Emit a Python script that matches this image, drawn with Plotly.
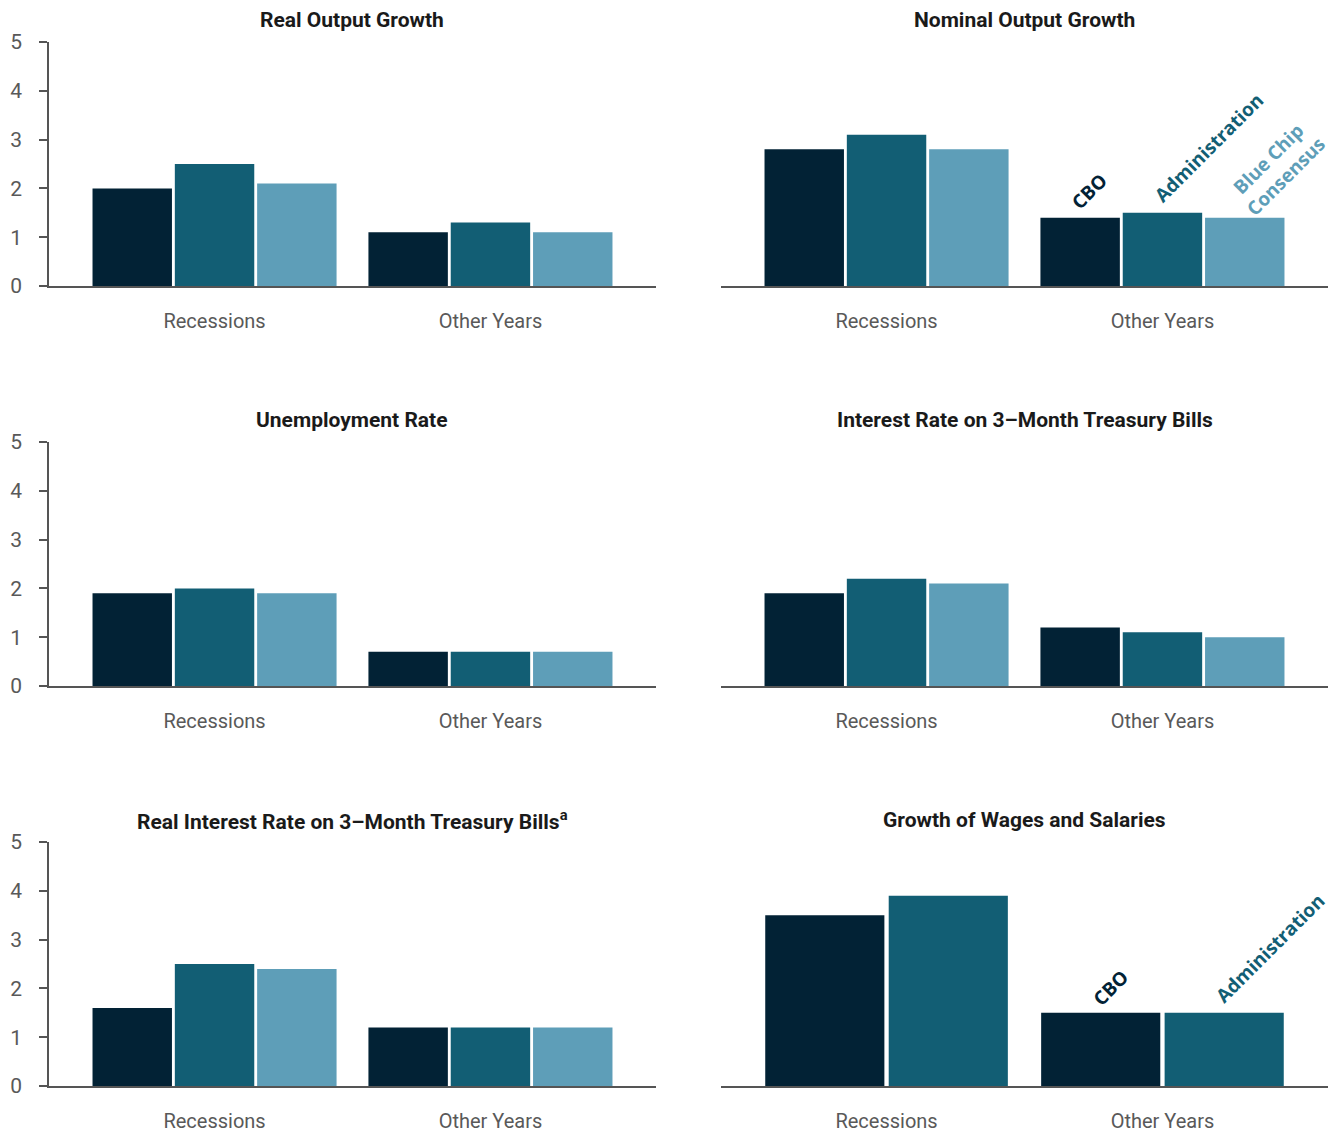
import plotly.graph_objects as go

categories = ["Recessions", "Other Years"]
series_names = ["CBO", "Administration", "Blue Chip Consensus"]
colors = ["#022235", "#125e74", "#5e9eb8"]

titles = [
    "Real Output Growth",
    "Nominal Output Growth",
    "Unemployment Rate",
    "Interest Rate on 3–Month Treasury Bills",
    "Real Interest Rate on 3–Month Treasury Bills<sup>a</sup>",
    "Growth of Wages and Salaries",
]

real_output = {"CBO": [2.0, 1.1], "Administration": [2.5, 1.3], "Blue Chip Consensus": [2.1, 1.1]}
nominal_output = {"CBO": [2.8, 1.4], "Administration": [3.1, 1.5], "Blue Chip Consensus": [2.8, 1.4]}
unemployment = {"CBO": [1.9, 0.7], "Administration": [2.0, 0.7], "Blue Chip Consensus": [1.9, 0.7]}
interest_3m = {"CBO": [1.9, 1.2], "Administration": [2.2, 1.1], "Blue Chip Consensus": [2.1, 1.0]}
real_interest_3m = {"CBO": [1.6, 1.2], "Administration": [2.5, 1.2], "Blue Chip Consensus": [2.4, 1.2]}
wages = {"CBO": [3.5, 1.5], "Administration": [3.9, 1.5]}

panels = [real_output, nominal_output, unemployment, interest_3m, real_interest_3m, wages]

W, H = 1331, 1135
xdom = [(49, 656), (721, 1328)]
ydom = [(42, 286), (442, 686), (842, 1086)]

fig = go.Figure()
layout = dict(
    width=W, height=H, margin=dict(l=0, r=0, t=0, b=0, autoexpand=False),
    paper_bgcolor="white", plot_bgcolor="white",
    barmode="group", bargap=0.105, bargroupgap=0.035,
    showlegend=False,
    font=dict(family="Roboto", color="#595959"),
)
annotations = []

for i, data in enumerate(panels):
    r, c = divmod(i, 2)
    ax = "" if i == 0 else str(i + 1)
    x0, x1 = xdom[c]
    top, bot = ydom[r]
    for k, name in enumerate(series_names):
        if name not in data:
            continue
        fig.add_trace(go.Bar(
            x=categories, y=data[name], name=name,
            marker=dict(color=colors[k], line=dict(width=0)),
            xaxis="x" + ax, yaxis="y" + ax, hoverinfo="skip",
        ))
    layout["xaxis" + ax] = dict(
        domain=[x0 / W, x1 / W], anchor="y" + ax, automargin=False,
        type="category", range=[-0.6, 1.6],
        showline=True, linecolor="#555555", linewidth=1.5,
        ticks="", showgrid=False, zeroline=False,
        tickfont=dict(size=20, color="#595959", family="Roboto"),
        ticklabelstandoff=16,
    )
    yax = dict(
        domain=[1 - bot / H, 1 - top / H], anchor="x" + ax, automargin=False,
        range=[0, 5], showgrid=False, zeroline=False, fixedrange=True,
    )
    if c == 0:
        yax.update(
            showline=True, linecolor="#555555", linewidth=1.5,
            ticks="outside", ticklen=8, tickcolor="#555555", tickwidth=1.5,
            tickvals=[0, 1, 2, 3, 4, 5],
            tickfont=dict(size=21, color="#595959", family="Roboto"),
            ticklabelstandoff=13,
        )
    else:
        yax.update(showline=False, showticklabels=False, ticks="")
    layout["yaxis" + ax] = yax
    annotations.append(dict(
        text="<b>" + titles[i] + "</b>", xref="paper", yref="paper",
        x=(x0 + x1) / 2 / W, y=1 - (top - 22) / H,
        xanchor="center", yanchor="middle", showarrow=False,
        font=dict(size=21, color="#1a1a1a", family="Roboto"),
    ))

# series labels over the "Other Years" bars
label_specs = [
    ("x2", "y2", 0.7355, nominal_output["CBO"][1] + 0.55, "CBO", colors[0]),
    ("x2", "y2", 1.167, nominal_output["Administration"][1] + 1.33, "Administration", colors[1]),
    ("x2", "y2", 1.417, nominal_output["Blue Chip Consensus"][1] + 1.02, "Blue Chip<br>Consensus", colors[2]),
    ("x6", "y6", 0.812, wages["CBO"][1] + 0.5, "CBO", colors[0]),
    ("x6", "y6", 1.391, wages["Administration"][1] + 1.33, "Administration", colors[1]),
]
for xr, yr, xv, yv, txt, col in label_specs:
    annotations.append(dict(
        text="<b>" + txt + "</b>", xref=xr, yref=yr, x=xv, y=yv,
        xanchor="center", yanchor="middle", showarrow=False, textangle=-45,
        font=dict(size=19, color=col, family="Open Sans"),
    ))

layout["annotations"] = annotations
fig.update_layout(**layout)
fig.write_html("out.html")
